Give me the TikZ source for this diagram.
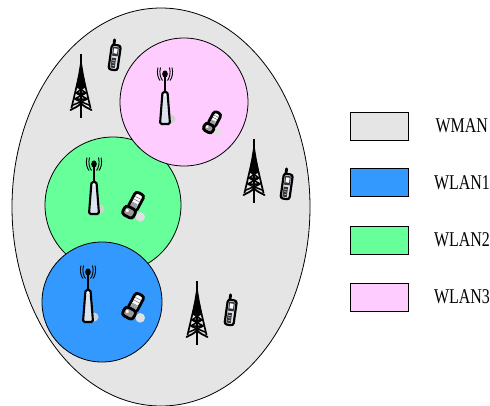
\documentclass[tikz,border=0pt]{standalone}
\usepackage{fontspec}
\usepackage{xcolor}
\usepackage{tikz}
\usetikzlibrary{positioning,shapes.geometric}
\newfontfamily\legendfont[FakeStretch=.76]{Liberation Serif}
\definecolor{wmangray}{HTML}{E5E5E5}
\definecolor{wlanblue}{HTML}{3399FF}
\definecolor{wlangreen}{HTML}{66FF99}
\definecolor{wlanpink}{HTML}{FFCCFF}
\definecolor{iconblue}{HTML}{DDE4F0}

\tikzset{
pics/tower/.style={code={
    \draw [line width=1.8pt] (0,0) -- (0,64);
    \fill (0,4) -- (-5,34) -- (5,34) -- cycle;
    \draw [line width=1.7pt] (-2,22) -- (-9.5,54) (2,22) -- (9.5,54);
    \draw [line width=1.5pt] (-3.5,33) -- (3.5,33) (-5,39) -- (5,39) (-6.5,45) -- (6.5,45)
        (-5,39) -- (3.5,33) (5,39) -- (-3.5,33) (-6.5,45) -- (5,39) (6.5,45) -- (-5,39)
        (-8,51) -- (6.5,45) (8,51) -- (-6.5,45);
    \draw [line width=1.8pt,line cap=round] (-10.5,56) .. controls (-7,54) and (-3,53) .. (0,49)
        .. controls (3,53) and (7,54) .. (10.5,56);
}},
pics/handheld/.style={code={
    \begin{scope}[rotate=-8]
    \draw [line width=2.8pt,line cap=round] (-2.5,-10) -- (-2.5,-15);
    \draw [line width=2.2pt,fill=iconblue,rounded corners=2.5pt] (-4.5,-10) rectangle (4.5,15);
    \fill [black!80] (-2.8,-8) rectangle (2.8,1);
    \fill [white] (-1.8,-6.5) rectangle (1.8,-1.5);
    \fill [black!80] (-2.8,3) rectangle (1.5,13);
    \draw [white,line width=.4pt] (-2,5.5) -- (1,5.5) (-2,8) -- (1,8) (-2,10.5) -- (1,10.5);
    \end{scope}
}},
pics/accesspoint/.style={code={
    \fill [black!18] (6,51) circle (4.5);
    \draw [line width=1.6pt] (0,6) -- (0,26);
    \fill (0,6) ellipse (2.8 and 3.6);
    \foreach \r in {4.5,7}{
        \draw [line width=.9pt] (-\r,-.5) .. controls (-\r-1.5,5) and (-\r,10) .. (-\r+2,12.5);
        \draw [line width=.9pt] (\r,-.5) .. controls (\r+1.5,5) and (\r,10) .. (\r-2,12.5);
    }
    \draw [line width=2.1pt,fill=iconblue,rounded corners=1.5pt]
        (-2.5,24) -- (2.5,24) -- (5,56) -- (-5,56) -- cycle;
    \fill [white] (-1,25.5) rectangle (1,28);
}},
pics/flipphone/.style={code={
    \fill [black!12] (6,9) circle (4);
    \begin{scope}[rotate=-28]
    \draw [line width=2.8pt,fill=white,rounded corners=3pt] (-3.5,-12) rectangle (4.5,3);
    \fill [iconblue!70!black] (-2,-3) rectangle (3,1.5);
    \draw [black!60,line width=.5pt] (-2,-8) -- (3,-8) (-2,-5.5) -- (3,-5.5);
    \draw [line width=2.8pt,fill=black!40,rounded corners=3pt] (-5.5,2) rectangle (4.5,10);
    \fill [white] (-2.5,5.5) circle (1.5);
    \end{scope}
}}
}

\begin{document}
\begin{tikzpicture}[x=1pt,y=-1pt,
cell/.style={draw,ellipse,inner sep=0pt,line width=.8pt},
swatch/.style={draw,rectangle,minimum width=58pt,minimum height=28pt,inner sep=0pt,line width=.8pt},
swatchlabel/.style={inner sep=0pt,font=\legendfont\fontsize{21}{21}\selectfont}]
\useasboundingbox (0,0) rectangle (490,405);
\begin{scope}
\clip (0,0) rectangle (490,405);
\node (wman) [cell,fill=wmangray,minimum width=298pt,minimum height=398pt] at (161,207) {};
\end{scope}
\node (wlangreencell) [cell,fill=wlangreen,minimum size=136pt] at (113,205) {};
\node (wlanpinkcell) [cell,fill=wlanpink,minimum size=128pt] at (184,102) {};
\node (wlanbluecell) [cell,fill=wlanblue,minimum size=120pt] at (102,302) {};

% towers and handhelds in the wman cell
\pic at (81,54) {tower};
\pic at (254,139) {tower};
\pic at (197,281) {tower};
\pic at (115,55) {handheld};
\pic at (287,184) {handheld};
\pic at (231,310) {handheld};

% one access point and one phone per wlan
\pic at (165,68) {accesspoint};
\pic at (94,158) {accesspoint};
\pic at (88,266) {accesspoint};
\pic at (212,123) {flipphone};
\pic [scale=1.2] at (133,206) {flipphone};
\pic [scale=1.2] at (133,307) {flipphone};

\node (keywman) [swatch,fill=wmangray] at (379,126) {};
\node (keywlan1) [swatch,fill=wlanblue,below=28pt of keywman] {};
\node (keywlan2) [swatch,fill=wlangreen,below=28.5pt of keywlan1] {};
\node (keywlan3) [swatch,fill=wlanpink,below=28pt of keywlan2] {};
\node (textwman) [swatchlabel,right=27pt of keywman] {WMAN};
\node (textwlan1) [swatchlabel,right=25.5pt of keywlan1] {WLAN1};
\node (textwlan2) [swatchlabel,right=25.5pt of keywlan2] {WLAN2};
\node (textwlan3) [swatchlabel,right=25.5pt of keywlan3] {WLAN3};
\end{tikzpicture}
\end{document}
